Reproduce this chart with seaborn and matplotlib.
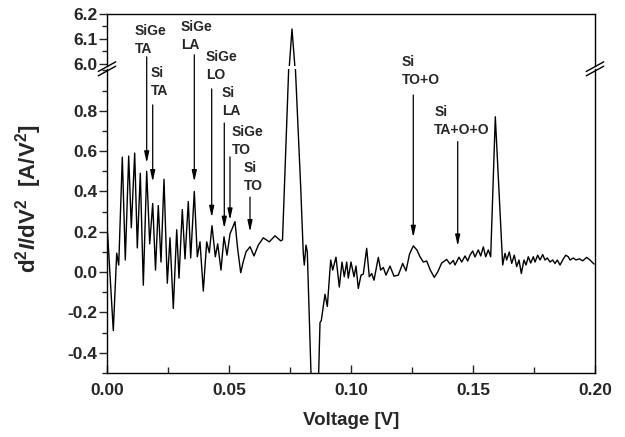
import numpy as np
import pandas as pd
import seaborn as sns
import matplotlib.pyplot as plt
from matplotlib.ticker import MultipleLocator, FormatStrFormatter

# curve (voltage in V, d2I/dV2 in A/V^2)
voltage = [
    0.0001, 0.00258, 0.00398, 0.0048, 0.00627, 0.0075, 0.00889, 0.00996, 0.01135, 0.01242,
    0.01365, 0.01488, 0.01627, 0.0175, 0.01873, 0.01988, 0.02102, 0.02213, 0.02336, 0.02471,
    0.02582, 0.02717, 0.02857, 0.02951, 0.03086, 0.03197, 0.03332, 0.0343, 0.03578, 0.03701,
    0.03811, 0.03947, 0.04086, 0.04193, 0.04303, 0.04439, 0.04537, 0.04672, 0.04795, 0.04918,
    0.05041, 0.05111, 0.05246, 0.0535, 0.0548, 0.0558, 0.05697, 0.05861, 0.06025, 0.06201,
    0.06406, 0.06652, 0.06885, 0.07119, 0.07193, 0.07447, 0.07471, 0.07582, 0.077, 0.07721,
    0.07939, 0.08045, 0.08086, 0.08156, 0.08209, 0.0841, 0.0863, 0.0873, 0.08783, 0.08934,
    0.09029, 0.09168, 0.0925, 0.09385, 0.0952, 0.09631, 0.09725, 0.09824, 0.09889, 0.1,
    0.10123, 0.10205, 0.10299, 0.1041, 0.10504, 0.10643, 0.1075, 0.10848, 0.10943, 0.11119,
    0.11217, 0.11324, 0.11434, 0.11598, 0.11762, 0.11939, 0.12119, 0.12254, 0.1240, 0.12553,
    0.1270, 0.12828, 0.12963, 0.13102, 0.1325, 0.13414, 0.1355, 0.13717, 0.13922, 0.14057,
    0.14193, 0.14262, 0.14426, 0.14537, 0.14672, 0.14783, 0.14877, 0.14988, 0.15082, 0.15217,
    0.15316, 0.15422, 0.1552, 0.15627, 0.15725, 0.15914, 0.16217, 0.16311, 0.1638, 0.16488,
    0.16586, 0.16693, 0.1679, 0.16885, 0.1698, 0.1709, 0.17172, 0.17266, 0.17365, 0.17471,
    0.17541, 0.17652, 0.17746, 0.17857, 0.1795, 0.18045, 0.18156, 0.18266, 0.1836, 0.18455,
    0.18566, 0.18676, 0.18799, 0.18906, 0.18975, 0.1911, 0.19221, 0.19357, 0.19496, 0.1966,
    0.19795, 0.1996,
]
d2i = [
    0.22, -0.29, 0.094, 0.035, 0.57, 0.06, 0.575, 0.22, 0.59, 0.12,
    0.49, -0.065, 0.50, 0.14, 0.34, 0.01, 0.33, 0.05, 0.46, -0.055,
    0.17, -0.18, 0.21, -0.03, 0.31, 0.065, 0.35, 0.07, 0.40, 0.076,
    0.15, -0.094, 0.15, 0.096, 0.23, 0.076, 0.14, 0.01, 0.175, 0.084,
    0.19, 0.21, 0.25, 0.12, -0.003, 0.05, 0.10, 0.126, 0.08, 0.134,
    0.17, 0.15, 0.18, 0.155, 0.16, 1.01, 5.99, 6.14, 5.99, 1.01,
    0.42, 0.09, 0.035, 0.134, 0.10, -0.70, -0.70, -0.25, -0.24, -0.11,
    -0.17, 0.06, 0.01, 0.074, -0.074, 0.05, -0.023, 0.05, -0.03, 0.05,
    -0.023, 0.03, -0.081, -0.015, -0.01, 0.118, -0.023, -0.007, -0.04, 0.073,
    0.01, 0.023, -0.015, 0.03, -0.02, -0.015, 0.043, 0.006, 0.09, 0.13,
    0.11, 0.076, 0.05, 0.055, 0.01, -0.026, 0.0, 0.045, 0.063, 0.04,
    0.058, 0.035, 0.074, 0.05, 0.08, 0.055, 0.084, 0.105, 0.075, 0.11,
    0.08, 0.125, 0.076, 0.11, 0.076, 0.77, 0.035, 0.093, 0.06, 0.10,
    0.043, 0.084, 0.027, 0.06, -0.007, 0.06, 0.035, 0.076, 0.045, 0.076,
    0.05, 0.084, 0.06, 0.087, 0.06, 0.07, 0.05, 0.06, 0.043, 0.06,
    0.035, 0.06, 0.084, 0.076, 0.06, 0.07, 0.06, 0.066, 0.056, 0.073,
    0.06, 0.04,
]

# phonon annotations: label, arrow x, arrow start y, arrow tip y, text x, text bottom y
ann_labels = ["SiGe\nTA", "Si\nTA", "SiGe\nLA", "SiGe\nLO", "Si\nLA", "SiGe\nTO", "Si\nTO",
              "Si\nTO+O", "Si\nTA+O+O"]
ann_x = [0.01627, 0.01873, 0.03578, 0.04291, 0.04807, 0.05041, 0.05861, 0.12553, 0.14373]
ann_start = [1.067, 0.829, 1.077, 0.908, 0.739, 0.571, 0.372, 0.878, 0.647]
ann_tip = [0.541, 0.448, 0.448, 0.271, 0.217, 0.258, 0.200, 0.172, 0.129]
ann_text_x = [0.01148, 0.01803, 0.03033, 0.04045, 0.04701, 0.05123, 0.05615, 0.12078, 0.13414]
ann_text_y = [1.072, 0.864, 1.092, 0.943, 0.764, 0.571, 0.392, 0.918, 0.670]

df = pd.DataFrame({"voltage": voltage, "d2i": d2i})

sns.set_theme(style="ticks")
plt.rcParams['font.family'] = ['Liberation Sans', 'DejaVu Sans']
plt.rcParams['font.weight'] = 'bold'
plt.rcParams['axes.unicode_minus'] = False
plt.rcParams['mathtext.fontset'] = 'custom'
plt.rcParams['mathtext.rm'] = 'Liberation Sans:bold'
plt.rcParams['mathtext.it'] = 'Liberation Sans:bold:italic'
plt.rcParams['mathtext.bf'] = 'Liberation Sans:bold'

fig = plt.figure(figsize=(6.25, 4.37), dpi=100)
ax_top = fig.add_axes([0.1712, 0.849, 0.7808, 0.119])
ax = fig.add_axes([0.1712, 0.1465, 0.7808, 0.6957])
ax_top.patch.set_visible(False)
ax.patch.set_visible(False)

for a in (ax_top, ax):
    sns.lineplot(data=df, x="voltage", y="d2i", ax=a, color="black", lw=1.0,
                 estimator=None, sort=False, solid_joinstyle="round")
    a.set_xlim(0, 0.2)
    a.set_xlabel("")
    a.set_ylabel("")
    for s in a.spines.values():
        s.set_linewidth(1.0)
        s.set_color("black")

ax_top.set_ylim(5.992, 6.2)
ax.set_ylim(-0.5, 1.007)
ax_top.spines['bottom'].set_visible(False)
ax.spines['top'].set_visible(False)
ax_top.tick_params(axis='x', bottom=False, labelbottom=False)

ax.xaxis.set_major_locator(MultipleLocator(0.05))
ax.xaxis.set_minor_locator(MultipleLocator(0.025))
ax.xaxis.set_major_formatter(FormatStrFormatter('%.2f'))
ax.tick_params(axis='x', which='major', direction='in', length=6, width=1, pad=7, labelsize=12.5)
ax.tick_params(axis='x', which='minor', direction='in', length=4, width=1)

ax.yaxis.set_minor_locator(MultipleLocator(0.1))
ax.set_yticks([-0.4, -0.2, 0.0, 0.2, 0.4, 0.6, 0.8])
ax.yaxis.set_major_formatter(FormatStrFormatter('%.1f'))
ax_top.set_yticks([6.0, 6.1, 6.2])
ax_top.yaxis.set_minor_locator(MultipleLocator(0.05))
ax_top.yaxis.set_major_formatter(FormatStrFormatter('%.1f'))
for a in (ax_top, ax):
    a.tick_params(axis='y', which='major', direction='out', length=6, width=1, pad=1, labelsize=12.5)
    a.tick_params(axis='y', which='minor', direction='out', length=3.5, width=1)

# break marks on both spines
for xf in (0.1712, 0.952):
    for yc in (0.8475, 0.8375):
        fig.add_artist(plt.Line2D([xf - 0.014, xf + 0.014], [yc - 0.011, yc + 0.011],
                                  color="black", lw=1.0))

for lab, x, y0, y1, tx, ty in zip(ann_labels, ann_x, ann_start, ann_tip, ann_text_x, ann_text_y):
    ax.annotate("", xy=(x, y1), xytext=(x, y0), annotation_clip=False,
                arrowprops=dict(arrowstyle="-|>,head_length=0.55,head_width=0.12",
                                color="black", lw=0.9, shrinkA=0, shrinkB=0))
    ax.text(tx, ty, lab, ha="left", va="bottom", fontsize=10, fontweight="bold",
            linespacing=1.35, clip_on=False)

ax.set_xlabel("Voltage [V]", fontsize=13.5, fontweight="bold", labelpad=10)
fig.text(0.046, 0.545, r"$\mathrm{d}^{\mathrm{2}}\mathit{I}\mathrm{/dV}^{\mathrm{2}}\ \ \mathrm{[A/V}^{\mathrm{2}}\mathrm{]}$",
         rotation=90, ha="center", va="center", fontsize=16)

fig.savefig("out.png", dpi=100)
